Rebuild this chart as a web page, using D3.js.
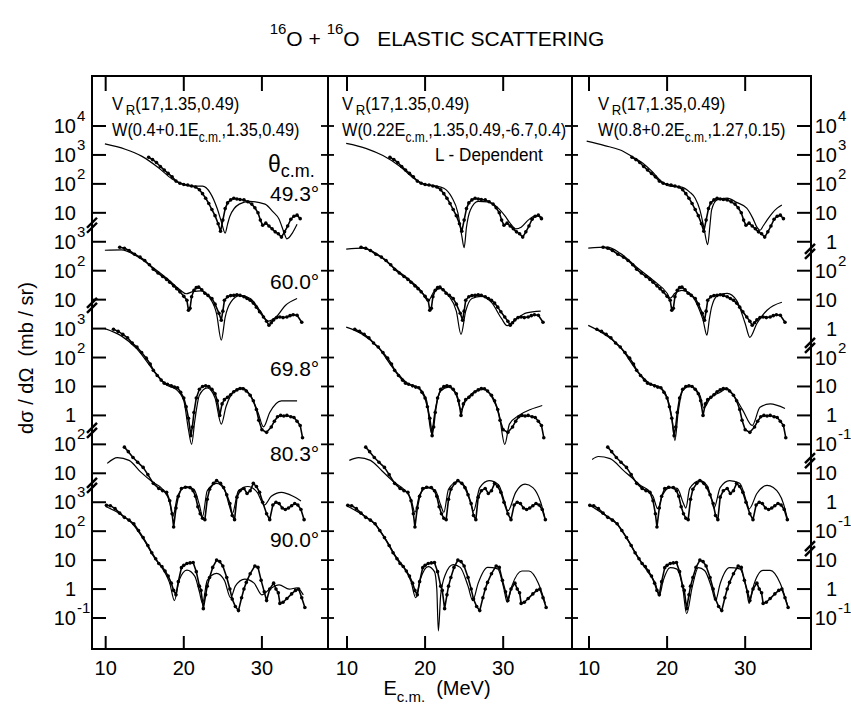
<!DOCTYPE html>
<html>
<head>
<meta charset="utf-8">
<script src="https://cdn.jsdelivr.net/npm/d3@7"></script>
<style>
  body { margin: 0; background: #fff; }
  svg { display: block; }
  text { font-family: "Liberation Sans", Arial, Helvetica, sans-serif; fill: #000; }
</style>
</head>
<body>
<svg id="chart" width="851" height="715"></svg>
<script>
// 16O + 16O elastic scattering excitation functions at five c.m. angles,
// compared with three optical-model calculations (one per panel).

const angles = ["49.3°", "60.0°", "69.8°", "80.3°", "90.0°"];
// decade exponent of each angle's topmost axis tick (curves are stacked)
const topExponent = [4, 7, 10, 13, 16];

// axis labels shown on each side, per angle (as powers of ten)
const leftLabelExps  = [[4, 3, 2, 1], [3, 2, 1], [3, 2, 1, 0], [2, 1], [3, 2, 1, 0, -1]];
const rightLabelExps = [[4, 3, 2, 1, 0], [2, 1, 0], [2, 1, 0, -1], [1, 0, -1], [1, 0, -1]];
// axis break marks, in decades below the top tick
const leftBreaks  = [3.43, 6.2, 10.52, 12.42];
const rightBreaks = [4.33, 7.58, 11.56, 14.6];

const energyTicks = [10, 20, 30];

// measured cross sections [E_cm (MeV), dσ/dΩ (mb/sr)]
const data493 = [[15.5,830],[16.0,690],[16.5,550],[17.0,400],[17.5,300],[18.0,230],[18.5,175],[19.0,125],[19.5,105],[20.0,95],[20.5,91],[21.0,85],[21.5,78],[22.0,63],[22.4,46],[22.8,32],[23.2,21],[23.6,13],[24.0,8],[24.4,4.2],[24.7,2.3],[25.0,5.6],[25.3,14],[25.6,22],[26.0,28],[26.4,32],[26.8,30],[27.2,29],[27.7,28],[28.2,24],[28.7,20],[29.1,15],[29.5,10],[29.8,5.6],[30.1,3.7],[30.5,4.4],[30.9,3.5],[31.3,2.8],[31.7,2.2],[32.1,1.9],[32.5,1.45],[32.9,2.2],[33.3,3.5],[33.7,6.0],[34.1,7.6],[34.5,8.3],[34.9,6.3]];
const data600 = [[11.8,650],[12.4,600],[13.0,500],[13.7,370],[14.4,295],[15.0,225],[15.6,160],[16.1,112],[16.7,83],[17.3,63],[17.8,50],[18.2,40],[18.7,30],[19.1,24],[19.5,18.6],[20.0,13],[20.4,9.5],[20.6,4.3],[20.8,5],[21.0,12.6],[21.3,21],[21.6,26],[21.9,27],[22.3,22],[22.7,16.6],[23.1,14],[23.6,11],[24.0,7],[24.5,3.4],[24.8,1.95],[25.0,4],[25.2,9.5],[25.6,12.6],[26.0,13.8],[26.4,14],[26.8,14.8],[27.2,14],[27.7,12.6],[28.1,11],[28.5,9.5],[28.9,7.6],[29.3,5.5],[29.7,3.8],[30.2,2.5],[30.6,1.8],[30.9,1.3],[31.2,1.6],[31.5,2.0],[31.9,2.4],[32.3,2.5],[32.7,2.4],[33.2,2.5],[33.6,2.8],[34.0,3.0],[34.5,2.9],[35.1,1.66]];
const data698 = [[11.0,950],[11.6,800],[12.2,630],[12.8,480],[13.4,316],[14.0,230],[14.6,150],[15.2,95],[15.7,60],[16.1,36],[16.6,24],[17.1,16.6],[17.5,13],[17.9,12],[18.4,10.5],[18.8,9.5],[19.2,9],[19.6,6.3],[20.0,4],[20.3,2],[20.6,0.8],[20.9,0.2],[21.1,0.4],[21.3,1.26],[21.6,4],[22.0,8],[22.4,10],[22.8,10.5],[23.2,10],[23.6,8],[24.0,5.6],[24.3,3.2],[24.6,1.0],[24.9,2.5],[25.2,3.5],[25.6,4.2],[26.0,5.2],[26.4,6.6],[26.8,7.6],[27.2,8.5],[27.6,8.3],[28.0,7],[28.5,5],[28.9,3.2],[29.3,1.6],[29.6,0.68],[30.0,0.32],[30.6,0.26],[31.2,0.4],[31.6,0.63],[32.0,0.9],[32.4,1.0],[32.8,0.95],[33.2,1.0],[33.7,0.9],[34.1,0.85],[34.5,0.63],[34.9,0.45],[35.2,0.17]];
const data803 = [[12.4,80],[12.9,56],[13.5,35],[14.1,24],[14.8,16],[15.4,9],[16.1,4.5],[16.8,3],[17.3,2.5],[17.8,2.2],[18.2,1.12],[18.5,0.4],[18.7,0.14],[19.0,0.63],[19.3,1.6],[19.7,3],[20.2,3.3],[20.8,3.2],[21.2,2.5],[21.5,1.6],[21.8,0.7],[22.1,0.4],[22.4,0.28],[22.7,0.25],[23.0,1.26],[23.3,2.8],[23.8,4.5],[24.2,5.6],[24.7,4.5],[25.1,3.2],[25.5,1.8],[25.9,0.9],[26.2,0.35],[26.5,0.25],[26.8,1.5],[27.2,2.5],[27.7,3],[28.1,2],[28.5,2.5],[28.9,4.5],[29.3,3.5],[29.7,2.2],[30.1,1.0],[30.6,0.4],[31.0,0.25],[31.4,0.8],[31.8,1.0],[32.2,0.9],[32.6,0.63],[33.0,0.56],[33.4,0.63],[33.8,0.76],[34.2,0.9],[34.6,0.8],[35.0,0.56],[35.4,0.25]];
const data900 = [[10.1,780],[10.6,760],[11.2,600],[11.8,420],[12.4,300],[13.0,240],[13.6,180],[14.2,105],[14.8,60],[15.4,32],[15.9,18],[16.4,11.2],[16.8,7.6],[17.2,6],[17.6,4.2],[18.0,2.8],[18.4,1.6],[18.7,0.9],[19.0,0.63],[19.3,1.8],[19.7,5.5],[20.0,6.6],[20.4,7.6],[20.8,8],[21.2,8.3],[21.6,4],[22.0,1.26],[22.2,0.9],[22.5,0.21],[22.8,0.63],[23.0,1.26],[23.3,2.5],[23.7,5.6],[24.2,10],[24.6,8.9],[25.0,6.3],[25.5,2.5],[25.9,1.0],[26.2,0.45],[26.6,0.25],[27.0,0.18],[27.4,0.5],[27.7,1.0],[28.0,1.7],[28.5,3.4],[29.1,6.3],[29.5,5.6],[29.9,2.0],[30.3,0.8],[30.6,0.4],[31.0,1.0],[31.5,1.6],[31.8,1.0],[32.1,0.74],[32.3,0.32],[32.7,0.35],[33.2,0.47],[33.8,0.68],[34.3,0.9],[34.7,1.0],[35.1,0.5],[35.5,0.23]];
const measured = [data493, data600, data698, data803, data900];

// optical-model curves, left panel: W = 0.4 + 0.1 E
const calcA493 = [[9.9,2400],[12.5,1580],[14.6,910],[16.8,355],[18.5,148],[19.8,100],[21.1,83],[22.4,83],[23.4,48],[24.3,13.5],[24.8,5],[25.3,2],[25.6,4],[25.9,7.6],[27.1,20],[28.4,25],[30.4,20],[31.4,11],[32.2,6],[32.8,2.2],[33.2,1.26],[33.9,2],[34.5,4]];
const calcA600 = [[9.9,510],[12.0,525],[14.0,316],[16.0,132],[18.0,50],[19.5,22],[20.3,16],[21.2,19],[22.2,20],[23.2,12.6],[24.2,3.2],[24.8,0.4],[25.3,2.5],[26.0,8],[27.2,14],[28.5,11],[29.8,4],[30.8,1.8],[31.8,2.5],[33.0,6.3],[34.5,11]];
const calcA698 = [[9.9,1000],[12.0,560],[14.0,200],[16.0,40],[17.8,11.2],[19.0,8],[20.0,3.2],[20.6,0.32],[21.0,0.1],[21.4,0.63],[22.0,5],[23.0,8.9],[24.0,4],[24.8,0.5],[25.4,2],[26.5,7],[27.5,8.9],[28.5,5],[29.5,1.26],[30.2,0.4],[31.0,1.26],[32.5,3.2],[34.5,3.2]];
const calcA803 = [[10.2,22],[11.5,35],[13.0,28],[14.5,11],[16.0,5],[17.3,2.8],[18.2,1.0],[18.6,0.32],[19.2,1.6],[20.3,3.5],[21.3,2.8],[22.0,0.8],[22.4,0.32],[23.0,2.5],[24.2,4.5],[25.2,2.8],[25.8,0.8],[26.2,0.4],[27.0,2.5],[28.2,3.5],[29.4,2.2],[30.3,0.8],[31.2,1.6],[32.5,2.2],[34.0,1.6],[35.0,1.1]];
const calcA900 = [[10.0,710],[11.8,400],[13.6,160],[15.0,45],[16.2,12.6],[17.3,5],[18.2,1.6],[18.8,0.4],[19.4,2],[20.4,4.5],[21.4,2.8],[22.0,0.8],[22.4,0.32],[23.0,2],[24.2,3.5],[25.2,2],[26.0,0.5],[26.6,1.26],[27.8,2.2],[29.0,1.6],[30.0,0.63],[31.0,1.0],[32.2,1.4],[33.5,1.0],[34.5,1.1],[35.3,0.63]];

// middle panel: L-dependent absorption
const calcB493 = [[9.9,2500],[12.5,1660],[14.6,950],[16.8,400],[18.5,160],[19.8,100],[21.1,87],[22.4,71],[23.4,35],[24.2,10],[24.7,1.6],[25.0,0.63],[25.3,3.2],[25.8,12.6],[26.8,25],[28.0,24],[29.2,16],[30.2,8],[31.0,4],[31.6,2.8],[32.3,3.2],[33.2,5.6],[34.2,8],[35.0,7]];
const calcB600 = [[9.9,560],[12.0,600],[14.0,355],[16.0,126],[18.0,48],[19.5,20],[20.4,9],[21.2,20],[22.0,24],[23.0,14],[24.0,4],[24.6,0.63],[25.2,4],[26.0,11],[27.2,13],[28.5,8],[29.8,2.2],[30.5,1.26],[31.5,2],[33.0,3.5],[34.8,4]];
const calcB698 = [[9.9,1120],[12.0,630],[14.0,224],[16.0,40],[17.8,12.6],[19.2,8.9],[20.2,3.2],[20.8,0.25],[21.3,1.6],[22.0,7],[23.0,9.5],[24.0,5],[24.6,1.6],[25.2,3.2],[26.5,7],[27.5,8],[28.5,4.5],[29.5,1.0],[30.2,0.1],[30.8,0.5],[32.0,1.0],[33.5,1.6],[35.0,2.2]];
const calcB803 = [[10.3,28],[11.5,35],[13.0,28],[14.5,12],[16.0,5],[17.4,2.6],[18.2,1.26],[18.7,0.45],[19.3,1.8],[20.3,3.2],[21.3,2.6],[22.0,0.8],[22.4,0.45],[23.0,2.8],[24.2,5.2],[25.2,3.2],[25.8,1.0],[26.2,0.5],[27.0,3.2],[28.2,5.6],[29.4,4],[30.2,1.0],[30.6,0.5],[31.6,2.2],[32.8,4.2],[33.8,3.2],[34.8,1.0],[35.3,0.32]];
const calcB900 = [[10.0,740],[11.8,400],[13.6,175],[15.0,50],[16.2,14],[17.3,5.6],[18.2,1.8],[18.8,0.5],[19.4,2.2],[20.4,6],[21.2,4],[21.5,1.0],[21.7,0.036],[22.0,0.63],[22.6,3.2],[23.6,7],[24.5,5.6],[25.5,1.26],[26.1,0.4],[26.8,1.6],[28.0,5.6],[29.3,5],[30.1,1.0],[30.5,0.35],[31.1,1.26],[32.4,4.2],[33.3,4.2],[34.5,1.6],[35.4,0.32]];

// right panel: W = 0.8 + 0.2 E
const calcC493 = [[9.7,3000],[12.0,2100],[14.0,1480],[15.5,890],[16.9,520],[18.0,280],[19.1,135],[20.4,83],[21.7,79],[22.9,52],[23.6,32],[24.2,12.6],[24.7,3.2],[25.2,0.8],[25.5,4],[25.7,12.6],[26.4,28],[27.7,32],[28.9,23],[30.2,14.5],[31.0,6.3],[31.5,3.2],[31.9,2.5],[32.3,3.5],[32.8,5.6],[33.5,10],[34.1,14.5],[34.7,18.6]];
const calcC600 = [[9.9,600],[12.3,650],[14.0,400],[16.1,132],[18.2,47],[20.0,16.6],[20.4,11.2],[21.0,16.6],[21.9,21],[22.9,16.6],[24.0,5.5],[24.6,2],[25.1,0.59],[25.4,2],[25.7,5.5],[26.5,14],[27.7,16.6],[28.9,9.5],[30.0,1.5],[30.6,0.5],[31.5,1.5],[32.8,4.3],[34.7,8.1]];
const calcC698 = [[9.9,1290],[12.0,630],[14.0,230],[16.1,36],[17.8,12.6],[19.1,9.3],[20.0,4.2],[20.6,0.85],[21.0,0.135],[21.4,1.17],[22.0,7.2],[22.9,10],[24.2,5],[24.7,1.8],[25.5,3.9],[26.8,6.3],[27.7,8.5],[28.5,5],[29.7,1.5],[30.9,0.45],[31.9,1.9],[33.2,2.5],[35.1,1.74]];
const calcC803 = [[10.4,30],[11.2,38],[12.7,32],[14.4,12.6],[15.5,7],[16.6,3.8],[17.6,2.6],[18.2,1.6],[18.8,0.6],[19.4,1.74],[20.4,3.2],[21.3,3],[22.1,0.9],[22.4,0.63],[22.9,3],[24.2,5.6],[25.1,3.8],[25.7,1.26],[26.0,0.63],[26.8,3.2],[28.0,5.6],[29.3,4.5],[30.2,1.0],[30.5,0.59],[31.5,2],[32.8,3.8],[33.6,3.2],[34.9,0.9],[35.4,0.27]];
const calcC900 = [[10.1,780],[11.8,400],[13.6,180],[14.8,60],[15.9,18],[16.8,7.6],[17.6,3.7],[18.5,1.55],[19.0,0.59],[19.5,1.95],[20.4,5.5],[21.2,5],[22.0,1.12],[22.5,0.14],[23.2,1.12],[24.0,5.5],[24.8,4.4],[25.7,1.12],[26.2,0.4],[26.8,1.55],[28.0,5.5],[29.3,5],[30.2,0.9],[30.5,0.32],[31.0,1.12],[32.3,4.4],[33.2,4.4],[34.5,1.55],[35.5,0.23]];

const calcLeft   = [calcA493, calcA600, calcA698, calcA803, calcA900];
const calcMiddle = [calcB493, calcB600, calcB698, calcB803, calcB900];
const calcRight  = [calcC493, calcC600, calcC698, calcC803, calcC900];

// ---------------------------------------------------------------- layout
const svg = d3.select("#chart");
const frameTop = 76, frameBottom = 649;
const yTop = 126, yBottom = 618, nDecades = 17;

const panels = [
  { x0: 92,  x1: 328, e0: 8.25, e1: 38.46, calc: calcLeft,
    vr: "(17,1.35,0.49)", w: ["W(0.4+0.1E", ",1.35,0.49)"], hx: 112 },
  { x0: 328, x1: 572, e0: 7.57, e1: 38.81, calc: calcMiddle,
    vr: "(17,1.35,0.49)", w: ["W(0.22E", ",1.35,0.49,-6.7,0.4)"], hx: 342 },
  { x0: 572, x1: 811, e0: 7.82, e1: 38.43, calc: calcRight,
    vr: "(17,1.35,0.49)", w: ["W(0.8+0.2E", ",1.27,0.15)"], hx: 598 }
];
panels.forEach(p => { p.x = d3.scaleLinear().domain([p.e0, p.e1]).range([p.x0, p.x1]); });

// one log scale per angle, stacked along the shared vertical axis
const decadeY = d3.scaleLinear().domain([0, nDecades]).range([yTop, yBottom]);
const yScales = topExponent.map(t =>
  d3.scaleLog().domain([Math.pow(10, t - nDecades), Math.pow(10, t)]).range([yBottom, yTop]));

// ---------------------------------------------------------------- frame
const frame = svg.append("g").attr("stroke", "#000").attr("fill", "none");
frame.append("rect").attr("x", 92).attr("y", frameTop).attr("width", 811 - 92).attr("height", frameBottom - frameTop)
  .attr("stroke-width", 2);
[328, 572].forEach(xd => frame.append("line").attr("x1", xd).attr("x2", xd)
  .attr("y1", frameTop).attr("y2", frameBottom).attr("stroke-width", 2));

const decadeIdx = d3.range(0, nDecades + 1);
decadeIdx.forEach(k => {
  const y = decadeY(k);
  frame.append("line").attr("x1", 92).attr("x2", 106).attr("y1", y).attr("y2", y).attr("stroke-width", 2);
  frame.append("line").attr("x1", 797).attr("x2", 811).attr("y1", y).attr("y2", y).attr("stroke-width", 2);
  [328, 572].forEach(xd => frame.append("line").attr("x1", xd - 7).attr("x2", xd + 6)
    .attr("y1", y).attr("y2", y).attr("stroke-width", 1.8));
});

panels.forEach(p => {
  energyTicks.forEach(e => {
    const x = p.x(e);
    frame.append("line").attr("x1", x).attr("x2", x).attr("y1", frameTop).attr("y2", frameTop + 15).attr("stroke-width", 2);
    frame.append("line").attr("x1", x).attr("x2", x).attr("y1", frameBottom).attr("y2", frameBottom - 13).attr("stroke-width", 2);
    svg.append("text").attr("x", x).attr("y", 675).attr("text-anchor", "middle")
      .attr("font-size", 20).text(e);
  });
});

// axis break marks
function breakMark(x, y) {
  const g = svg.append("g").attr("stroke", "#000").attr("stroke-width", 2.4);
  [-2.5, 2.5].forEach(off => g.append("line")
    .attr("x1", x - 5).attr("y1", y + off + 5).attr("x2", x + 5).attr("y2", y + off - 5));
}
leftBreaks.forEach(k => breakMark(92, decadeY(k)));
rightBreaks.forEach(k => breakMark(810, decadeY(k)));

// tick labels: "10" with superscript exponent
function powerLabel(xBase, y, exp) {
  const base = exp === 0 ? "1" : "10";
  const baseline = y + 7;
  svg.append("text").attr("x", xBase).attr("y", baseline).attr("text-anchor", "end")
    .attr("font-size", 20).text(base);
  if (exp !== 0 && exp !== 1) {
    svg.append("text").attr("x", xBase + 1).attr("y", baseline - 12).attr("text-anchor", "start")
      .attr("font-size", 15).text(exp);
  }
}
angles.forEach((a, i) => {
  leftLabelExps[i].forEach(e => powerLabel(76, yScales[i](Math.pow(10, e)), e));
  rightLabelExps[i].forEach(e => powerLabel(837, yScales[i](Math.pow(10, e)), e));
});

// ---------------------------------------------------------------- curves and points
const plot = svg.append("g");
panels.forEach(p => {
  angles.forEach((a, i) => {
    const ys = yScales[i];
    const calcLine = d3.line().x(d => p.x(d[0])).y(d => ys(d[1])).curve(d3.curveMonotoneX);
    const dataLine = d3.line().x(d => p.x(d[0])).y(d => ys(d[1]));
    plot.append("path").datum(p.calc[i]).attr("d", calcLine)
      .attr("fill", "none").attr("stroke", "#000").attr("stroke-width", 1.2);
    // dense measured points run together into a heavy trace
    plot.append("path").datum(measured[i]).attr("d", dataLine)
      .attr("fill", "none").attr("stroke", "#000").attr("stroke-width", 1.6)
      .attr("stroke-linejoin", "round");
    plot.append("g").selectAll("circle").data(measured[i]).join("circle")
      .attr("cx", d => p.x(d[0])).attr("cy", d => ys(d[1])).attr("r", 1.8).attr("fill", "#000");
  });
});

// ---------------------------------------------------------------- panel headers
function condensed(x, y, sx) {
  return svg.append("g").attr("transform", `translate(${x},${y}) scale(${sx},1)`);
}
panels.forEach(p => {
  const t1 = condensed(p.hx, 110, 0.88).append("text").attr("font-size", 19);
  t1.append("tspan").text("V");
  t1.append("tspan").attr("font-size", 15).attr("dy", 5).attr("dx", 3).text("R");
  t1.append("tspan").attr("dy", -5).text(p.vr);
  const t2 = condensed(p.hx, 136, 0.86).append("text").attr("font-size", 19);
  t2.append("tspan").text(p.w[0]);
  t2.append("tspan").attr("font-size", 14).attr("dy", 6).text("c.m.");
  t2.append("tspan").attr("dy", -6).text(p.w[1]);
});
condensed(435, 161, 0.9).append("text").attr("font-size", 19).text("L - Dependent");

// angle labels
const th = svg.append("text").attr("x", 268).attr("y", 172).attr("font-size", 23);
th.append("tspan").text("θ");
th.append("tspan").attr("font-size", 18).attr("dy", 5).text("c.m.");
const angleBaselines = [201, 289, 376, 461, 547];
angles.forEach((a, i) => svg.append("text").attr("x", 270).attr("y", angleBaselines[i])
  .attr("font-size", 21).text(a));

// ---------------------------------------------------------------- titles
const title = svg.append("text").attr("x", 437).attr("y", 46).attr("text-anchor", "middle")
  .attr("font-size", 21).attr("xml:space", "preserve");
title.append("tspan").attr("font-size", 15).attr("dy", -12).text("16");
title.append("tspan").attr("dy", 12).text("O + ");
title.append("tspan").attr("font-size", 15).attr("dy", -12).text("16");
title.append("tspan").attr("dy", 12).text("O   ELASTIC SCATTERING");

const xl = svg.append("text").attr("x", 437).attr("y", 695).attr("text-anchor", "middle")
  .attr("font-size", 20).attr("xml:space", "preserve");
xl.append("tspan").text("E");
xl.append("tspan").attr("font-size", 15).attr("dy", 7).text("c.m.");
xl.append("tspan").attr("dy", -7).text("  (MeV)");

svg.append("text").attr("transform", "translate(33,358) rotate(-90)").attr("text-anchor", "middle")
  .attr("font-size", 20).attr("xml:space", "preserve").text("dσ / dΩ  (mb / sr)");
</script>
</body>
</html>
